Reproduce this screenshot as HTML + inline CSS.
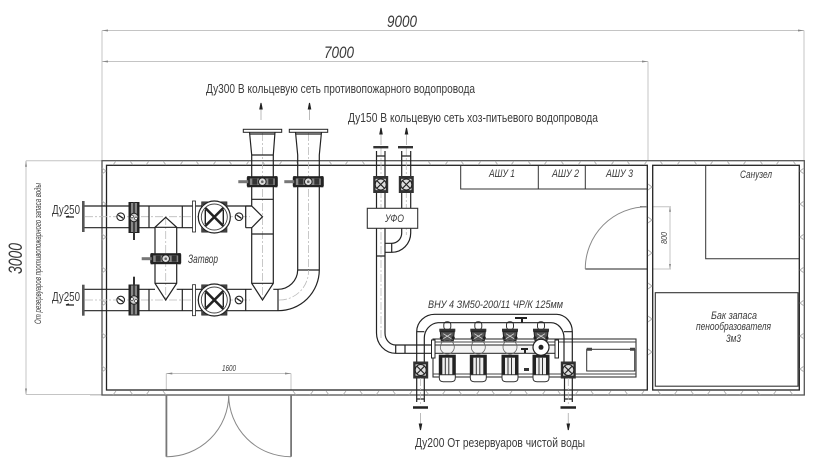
<!DOCTYPE html>
<html lang="ru"><head><meta charset="utf-8"><title>План</title>
<style>
html,body{margin:0;padding:0;background:#fff;width:840px;height:467px;overflow:hidden}
svg{display:block}
text{font-family:"Liberation Sans","DejaVu Sans",sans-serif;fill:#3a3a3a}
.i{font-style:italic}
.p{fill:none;stroke:#222;stroke-width:1.2}
.th{fill:none;stroke:#333;stroke-width:1}
.c{fill:none;stroke:#bbb;stroke-width:.8;stroke-dasharray:8 2 2 2}
.g{fill:none;stroke:#c4c4c4;stroke-width:1}
.h{fill:none;stroke:#aaa;stroke-width:.8}
</style></head><body>
<svg width="840" height="467" viewBox="0 0 840 467" xmlns="http://www.w3.org/2000/svg">
<defs>
<g id="bv">
  <rect x="-4" y="-15" width="8" height="30" fill="#888" stroke="#222"/>
  <rect x="-5.5" y="-15.500" width="2.400" height="31" fill="#222"/>
  <rect x="3.100" y="-15.500" width="2.400" height="31" fill="#222"/>
  <rect x="-1" y="-15" width="2" height="30" fill="#444"/>
  <circle r="4.200" fill="#ccc" stroke="#222"/>
  <circle r="1.400" cx="-2" cy="-1" fill="#fff" stroke="#222" stroke-width=".6"/>
  <circle r="1.400" cx="2" cy="1" fill="#fff" stroke="#222" stroke-width=".6"/>
</g>
<g id="bh">
  <rect x="-15" y="-4" width="30" height="8" fill="#888" stroke="#222"/>
  <rect x="-15" y="-5.500" width="30" height="2.200" fill="#222"/>
  <rect x="-15" y="3.300" width="30" height="2.200" fill="#222"/>
  <rect x="-15" y="-5.500" width="2.500" height="11" fill="#222"/>
  <rect x="12.500" y="-5.500" width="2.500" height="11" fill="#222"/>
  <rect x="-24" y="-1.500" width="10" height="3" fill="#777"/>
  <rect x="-10" y="-3" width="5" height="6" fill="#333"/>
  <rect x="6" y="-3" width="5" height="6" fill="#333"/>
  <circle r="3.800" fill="#ddd" stroke="#222"/>
  <circle r="1.300" fill="#666"/>
</g>
<g id="sv">
  <rect x="-7.500" y="-8.500" width="15" height="17" fill="#333"/>
  <rect x="-5.500" y="-6" width="11" height="12" fill="#ccc" stroke="#222" stroke-width=".6"/>
  <circle r="5.500" fill="#ddd" stroke="#222"/>
  <path d="M-4-4 4 4M4-4-4 4" stroke="#222" stroke-width="1.200"/>
</g>
<g id="gv">
  <rect x="-12.500" y="-15" width="25" height="30" fill="#fff" stroke="#222"/>
  <rect x="-12.500" y="-15" width="25" height="3" fill="#444"/>
  <rect x="-12.500" y="12" width="25" height="3" fill="#444"/>
  <circle r="16" fill="#fff" stroke="#222" stroke-width="1.200"/>
  <circle r="13" fill="none" stroke="#444" stroke-width=".9"/>
  <path d="M-9-9 9 9M9-9-9 9" stroke="#222" stroke-width="2.600"/>
  <path d="M-9-7V7M9-7V7" stroke="#222" stroke-width="1.400"/>
</g>
<g id="ga">
  <circle r="3.800" fill="#fff" stroke="#222" stroke-width="1.100"/>
  <path d="M-2.400-1.600 2.400 1.600" stroke="#222" stroke-width="1.300"/>
</g>
<g id="pump">
  <rect x="-3.500" y="0" width="7" height="8" rx="3" fill="#fff" stroke="#333"/>
  <rect x="-8" y="7" width="16" height="3" fill="#333"/>
  <path d="M-7 10H7L6 19H-6Z" fill="#555" stroke="#222"/>
  <path d="M-4 12 4 17M4 12-4 17" stroke="#ddd" stroke-width=".8"/>
  <circle cx="-6" cy="16" r="1.500" fill="#222"/>
  <circle cx="6" cy="16" r="1.500" fill="#222"/>
  <rect x="-8.500" y="33" width="17" height="20" fill="#222"/>
  <rect x="-5" y="36" width="10" height="17" fill="#eee"/>
  <path d="M-2 36V53M1.500 36V53" stroke="#333"/>
  <path d="M-8 53H8V56Q8 60 4 60H-4Q-8 60-8 56Z" fill="#fff" stroke="#333"/>
</g>
<g id="arrUp"><path d="M0 0V17" stroke="#bbb"/><path d="M-1.200 6 0 0 1.200 6Z" fill="#222" stroke="#222"/></g>
</defs>

<!-- dimensions -->
<g class="g">
  <path d="M102 30.500H804M102 30.500V160M804 30.500V160"/>
  <path d="M102 61.500H648M648 61.500V160"/>
  <path d="M26 160.700H102M26 394.500H102M26 160.700V394.500"/>
  <path d="M166.300 373.500H291M166.300 373.500V390M291 373.500V390"/>
  <path d="M652 206.700H671M652 269H671M670 206.700V269"/>
  <path d="M90 395H102"/>
</g>
<g fill="#888" stroke="none">
  <path d="M102 30.500l6-1v2ZM804 30.500l-6-1v2ZM102 61.500l6-1v2ZM648 61.500l-6-1v2ZM26 160.700l-1 6h2ZM26 394.500l-1-6h2ZM166.300 373.500l6-1v2ZM291 373.500l-6-1v2ZM670 206.700l-1 5h2ZM670 269l-1-5h2Z"/>
</g>
<text class="i" x="387" y="27" font-size="17" textLength="30" lengthAdjust="spacingAndGlyphs">9000</text>
<text class="i" x="324" y="58" font-size="17" textLength="30" lengthAdjust="spacingAndGlyphs">7000</text>
<text class="i" font-size="19" textLength="31" lengthAdjust="spacingAndGlyphs" transform="translate(22 274) rotate(-90)">3000</text>
<text class="i" font-size="9" textLength="141" lengthAdjust="spacingAndGlyphs" transform="translate(41 324) rotate(-90)">От резервуаров противопожарного запаса воды</text>
<text class="i" x="222" y="371" font-size="8" textLength="14" lengthAdjust="spacingAndGlyphs">1600</text>
<text class="i" font-size="8" textLength="12" lengthAdjust="spacingAndGlyphs" transform="translate(667 244) rotate(-90)">800</text>

<!-- walls -->
<rect x="102" y="160.700" width="702.300" height="234.300" fill="none" stroke="#555" stroke-width="1.300"/>
<rect x="106.500" y="165.300" width="540.800" height="224.700" fill="none" stroke="#222" stroke-width="1.300"/>
<rect x="652.700" y="165.300" width="146.600" height="224.700" fill="none" stroke="#222" stroke-width="1.300"/>
<path class="h" d="M113 165l3-4M130 161l3 4M146 165l3-4M163 161l3 4M180 165l3-4M196 161l3 4M213 165l3-4M229 161l3 4M246 165l3-4M262 161l3 4M279 165l3-4M296 161l3 4M329 161l3 4M345 165l3-4M362 161l3 4M428 161l3 4M445 165l3-4M461 161l3 4M478 165l3-4M495 161l3 4M511 165l3-4M528 161l3 4M544 165l3-4M561 161l3 4M578 165l3-4M594 161l3 4M611 165l3-4M627 161l3 4M644 165l3-4M660 161l3 4M677 165l3-4M694 161l3 4M710 165l3-4M727 161l3 4M743 165l3-4M760 161l3 4M776 165l3-4M793 161l3 4"/>
<path class="h" d="M113 395l3-4M130 391l3 4M146 395l3-4M163 391l3 4M293 391l3 4M310 395l3-4M326 391l3 4M343 395l3-4M360 391l3 4M376 395l3-4M393 391l3 4M409 395l3-4M426 391l3 4M442 395l3-4M459 391l3 4M476 395l3-4M492 391l3 4M509 395l3-4M525 391l3 4M542 395l3-4M558 391l3 4M575 395l3-4M591 391l3 4M608 395l3-4M625 391l3 4M641 395l3-4M658 391l3 4M674 395l3-4M691 391l3 4M707 395l3-4M724 391l3 4M740 395l3-4M757 391l3 4M773 395l3-4M790 391l3 4"/>
<path class="h" d="M102 168l4 3-4 3M102 201l4 3-4 3M102 234l4 3-4 3M102 267l4 3-4 3M102 300l4 3-4 3M102 333l4 3-4 3M102 366l4 3-4 3"/>
<path class="h" d="M804 168l-4 3 4 3M804 201l-4 3 4 3M804 234l-4 3 4 3M804 267l-4 3 4 3M804 300l-4 3 4 3M804 333l-4 3 4 3M804 366l-4 3 4 3"/>
<path class="h" d="M648 184l4 3-4 3M648 217l4 3-4 3M648 250l4 3-4 3M648 283l4 3-4 3M648 316l4 3-4 3M648 349l4 3-4 3"/>

<!-- rooms -->
<path class="th" stroke-width="1.200" d="M705.700 165.300V258.700H799.300"/>
<rect x="655.300" y="292.700" width="142.700" height="93.500" fill="none" stroke="#333" stroke-width="1.100"/>
<text class="i" x="740" y="178" font-size="11" textLength="32" lengthAdjust="spacingAndGlyphs">Санузел</text>
<text class="i" x="711" y="319" font-size="11" textLength="46" lengthAdjust="spacingAndGlyphs">Бак запаса</text>
<text class="i" x="696" y="330" font-size="11" textLength="75" lengthAdjust="spacingAndGlyphs">пенообразователя</text>
<text class="i" x="726" y="342" font-size="11" textLength="15" lengthAdjust="spacingAndGlyphs">3м3</text>

<!-- ASHU -->
<path class="th" d="M460.700 165.300V189H647M538.300 165.300V189M585.300 165.300V189"/>
<text class="i" x="489" y="177" font-size="11" textLength="26" lengthAdjust="spacingAndGlyphs">АШУ 1</text>
<text class="i" x="552" y="177" font-size="11" textLength="27" lengthAdjust="spacingAndGlyphs">АШУ 2</text>
<text class="i" x="606" y="177" font-size="11" textLength="27" lengthAdjust="spacingAndGlyphs">АШУ 3</text>
<path d="M585.300 269H647M640 206.700H647" stroke="#222" fill="none"/>
<path d="M585.300 269A62 62 0 0 1 647 206.700" fill="none" stroke="#888"/>

<!-- entrance door -->
<rect x="165.500" y="395" width="1.800" height="61.700" fill="#777"/>
<rect x="290.200" y="395" width="1.800" height="61.700" fill="#777"/>
<path d="M228.700 395A62 62 0 0 1 166.300 456.700M228.700 395A62 62 0 0 0 291 456.700" fill="none" stroke="#888"/>

<!-- left pipework -->
<g class="c"><path d="M85 216.700H250M85 300H250M165.700 217V300M262.500 133V298M308.500 133V270"/></g>
<path class="p" d="M84 206H251.700M84 227.700H155M176.700 227.700H194M245.700 227.700H251.700"/>
<path class="p" d="M84 289.300H155M176.700 289.300H251.700M84 310.700H278M149 206V227.700M149 289.300V310.700M182.300 206V227.700M182.300 289.300V310.700M245.700 206V227.700M245.700 289.300V310.700"/>
<rect x="82" y="201" width="2.600" height="31" fill="#555"/>
<rect x="82" y="284.700" width="2.600" height="31" fill="#555"/>
<path class="p" d="M155 283.300V227.300L165.700 217.300 176.700 227.300V283.300L165.700 300 155 283.300ZM155 227.300H176.700M155 283.300H176.700"/>
<path class="p" d="M251.700 155V206L262.500 216.700 251.700 227.700V283.300L262.500 300 273.300 283.300V155M251.700 199.300H273.300M251.700 234H273.300M251.700 283.300H273.300M245.700 206H251.700M251.700 155H273.300"/>
<path class="p" d="M273.300 289.300H278A19.700 19.700 0 0 0 297.700 270V155M319.300 155V270A41 41 0 0 1 278 310.700M278 289.300V310.700M297.700 270H319.300"/>
<path d="M279 300A29 29 0 0 0 308.500 270" class="c"/>
<path class="p" d="M249.500 132L251.700 155M275 132L273.300 155M249.500 134H275M295.500 132L297.700 155M321.500 132L319.300 155M295.500 134H321.500"/>
<rect x="243.300" y="129.300" width="38.400" height="3" fill="#fff" stroke="#222"/>
<rect x="289.300" y="129.300" width="38.400" height="3" fill="#fff" stroke="#222"/>
<use href="#bv" x="134" y="217.500"/>
<rect x="133" y="232" width="2" height="8" fill="#333"/>
<use href="#bv" x="134" y="300"/>
<rect x="133" y="276.700" width="2" height="9" fill="#333"/>
<use href="#ga" x="120.700" y="216.700"/>
<use href="#ga" x="120.700" y="300"/>
<use href="#ga" x="239" y="216.700"/>
<use href="#ga" x="239" y="300"/>
<rect x="192.500" y="201" width="3" height="31" fill="#fff" stroke="#222" stroke-width=".8"/>
<rect x="192.500" y="284.700" width="3" height="31" fill="#fff" stroke="#222" stroke-width=".8"/>
<use href="#gv" x="214.300" y="217"/>
<use href="#gv" x="214.300" y="300"/>
<use href="#bh" x="165.700" y="258.700"/>
<use href="#bh" x="262.300" y="181.700"/>
<use href="#bh" x="308.300" y="181.700"/>
<text class="i" x="188" y="263" font-size="12" textLength="30" lengthAdjust="spacingAndGlyphs">Затвор</text>
<text x="52" y="214" font-size="13" textLength="28" lengthAdjust="spacingAndGlyphs">Ду250</text>
<text x="52" y="301" font-size="13" textLength="28" lengthAdjust="spacingAndGlyphs">Ду250</text>
<path d="M74 217H66l3-1" stroke="#222" fill="none" stroke-width="1.200"/>
<path d="M74 305H66l3-1" stroke="#222" fill="none" stroke-width="1.200"/>

<!-- titles -->
<use href="#arrUp" x="261" y="103"/>
<use href="#arrUp" x="309.500" y="103"/>
<use href="#arrUp" x="381" y="128"/>
<use href="#arrUp" x="406.500" y="128"/>
<text x="206" y="93" font-size="13" textLength="269" lengthAdjust="spacingAndGlyphs">Ду300 В кольцевую сеть противопожарного водопровода</text>
<text x="348" y="122" font-size="13" textLength="250" lengthAdjust="spacingAndGlyphs">Ду150 В кольцевую сеть хоз-питьевого водопровода</text>

<!-- UFO pipework -->
<g class="c"><path d="M381 148V338M406.300 148V235"/></g>
<path class="p" d="M376.500 151V333A19.200 20.300 0 0 0 395.700 353.300H431M385 151V333A10.700 12 0 0 0 395.700 345H431M401.700 151V233A10 10.300 0 0 1 391.700 243.300H385M410.700 151V233A19 19.300 0 0 1 391.700 252.300H385M391.700 243.300V252.300M376.500 256H385M395.700 345V353.300M405 345V353.300"/>
<rect x="373.300" y="146" width="15" height="2.400" fill="#333"/>
<rect x="398" y="146" width="15" height="2.400" fill="#333"/>
<path class="p" d="M376.300 156H385M401.700 156H410.700"/>
<use href="#sv" x="380.700" y="184.500"/>
<use href="#sv" x="406.300" y="184.500"/>
<rect x="367.300" y="208.300" width="50.400" height="20" fill="#fff" stroke="#333" stroke-width="1.100"/>
<text class="i" x="385" y="222" font-size="11" textLength="19" lengthAdjust="spacingAndGlyphs">УФО</text>

<!-- pumps -->
<text class="i" x="428" y="308" font-size="11" textLength="135" lengthAdjust="spacingAndGlyphs">ВНУ 4 ЗМ50-200/11 ЧР/К 125мм</text>
<rect x="433" y="339" width="203" height="38" fill="none" stroke="#333" stroke-width="1.100"/>
<path d="M433 342H636M433 374H636" stroke="#444" fill="none"/>
<rect x="586.700" y="349.300" width="48" height="21.700" fill="#fff" stroke="#333"/>
<path d="M586.700 349.300H592M630 349.300H635" stroke="#444" stroke-width="3"/>
<use href="#pump" x="447.300" y="321.700"/>
<use href="#pump" x="478.300" y="321.700"/>
<use href="#pump" x="510" y="321.700"/>
<use href="#pump" x="541" y="321.700"/>
<path class="p" d="M416.700 361.700V331.700A18 17.400 0 0 1 435 314.300H556.700A16 17.400 0 0 1 572.300 331.700V361.700M424.300 361.700V338A15 15.300 0 0 1 438 322.700H551A13 15.300 0 0 1 564 338V361.700M416.700 331.700H424.300M564 331.700H572.300"/>
<rect x="431.500" y="340" width="3.500" height="18" fill="#fff" stroke="#222"/>
<rect x="555" y="340" width="3.500" height="18" fill="#fff" stroke="#222"/>
<rect x="435" y="345" width="120" height="8.300" fill="#f4f4f4" stroke="#222"/>
<circle cx="541" cy="347.300" r="8" fill="#fff" stroke="#222" stroke-width="1.200"/>
<circle cx="541" cy="347.300" r="2.500" fill="#222"/>
<circle cx="447.300" cy="347" r="7" fill="none" stroke="#666" stroke-width=".8"/>
<circle cx="478.300" cy="347" r="7" fill="none" stroke="#666" stroke-width=".8"/>
<circle cx="510" cy="347" r="7" fill="none" stroke="#666" stroke-width=".8"/>
<path d="M515 318H527M522 318V323M521 349H528M525 349V353" stroke="#222" stroke-width="2" fill="none"/>
<rect x="524" y="368" width="5" height="3" fill="#333"/>
<use href="#sv" x="420.700" y="370"/>
<use href="#sv" x="568.300" y="370"/>
<path class="p" d="M416.700 378V402M424.300 378V402M564.500 378V402M572.300 378V402M416.700 399H424.300M564.500 399H572.300"/>
<path d="M420.500 378V405M568.300 378V405" class="c"/>
<path d="M413 407.500H428M560.500 407.500H576" stroke="#222" stroke-width="2.400"/>
<g transform="translate(420.500 430) scale(1 -1)"><use href="#arrUp"/></g>
<g transform="translate(568.300 430) scale(1 -1)"><use href="#arrUp"/></g>
<text x="415" y="447" font-size="13" textLength="170" lengthAdjust="spacingAndGlyphs">Ду200 От резервуаров чистой воды</text>
</svg>
</body></html>
